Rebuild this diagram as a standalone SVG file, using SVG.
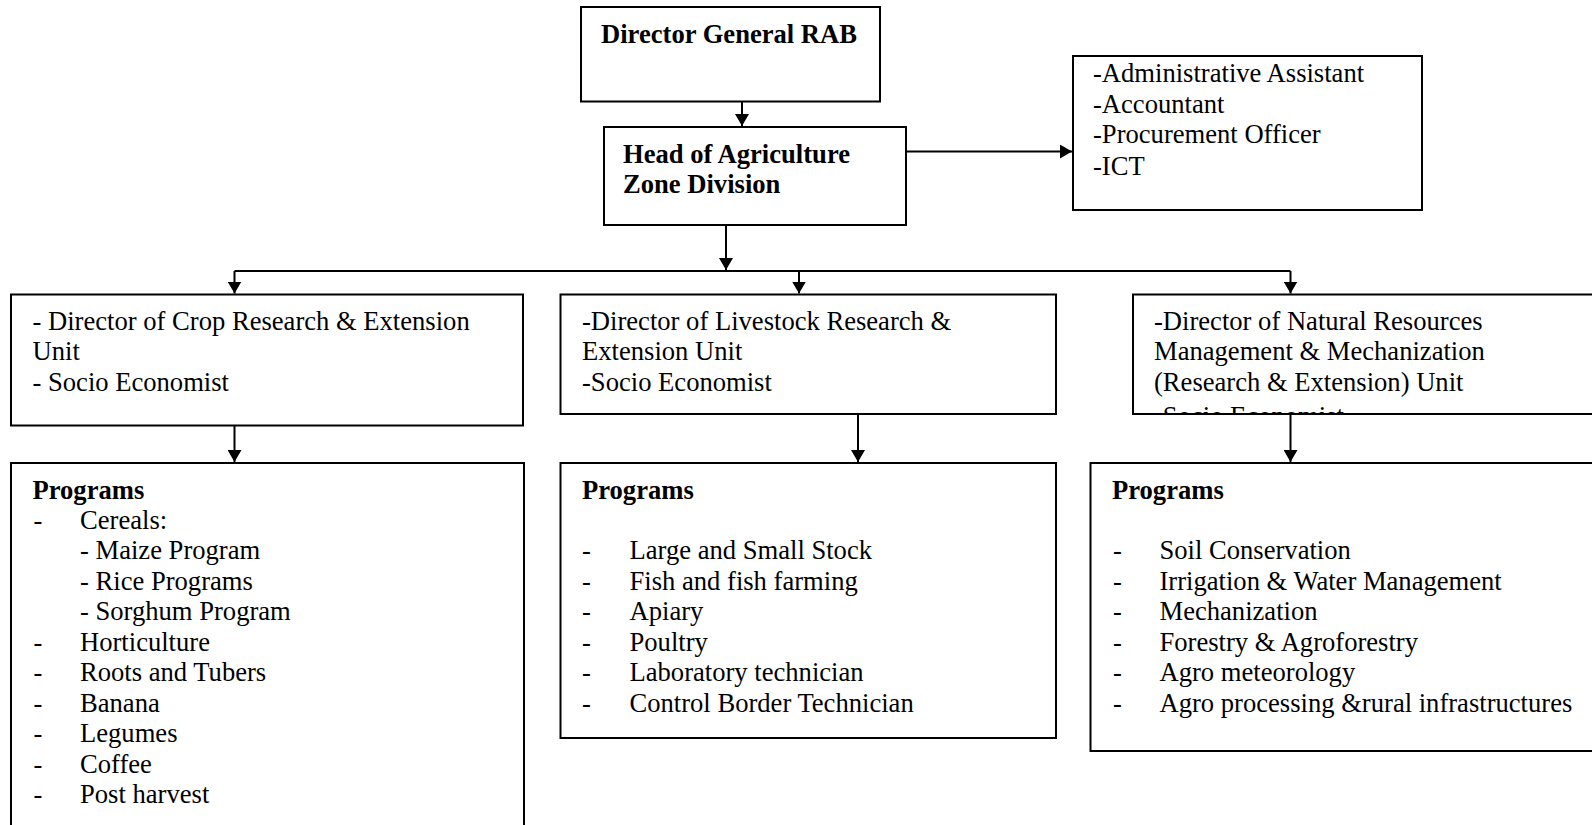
<svg xmlns="http://www.w3.org/2000/svg" width="1592" height="825" viewBox="0 0 1592 825">
<style>
.box{fill:#fff;stroke:#000;stroke-width:2}
.t{font-family:"Liberation Serif","Times New Roman",serif;font-size:26.6px;fill:#000}
.b{font-weight:bold}
.c{fill:none;stroke:#000;stroke-width:2}
</style>
<defs>
<marker id="ah" viewBox="0 0 12 14" refX="12" refY="7" markerWidth="12" markerHeight="14" markerUnits="userSpaceOnUse" orient="auto">
<path d="M0,0 L12,7 L0,14 Z" fill="#000"/>
</marker>
<clipPath id="clipNR"><rect x="1134" y="295.5" width="470" height="117.5"/></clipPath>
</defs>
<rect width="1592" height="825" fill="#fff"/>
<g id="connectors">
<line class="c" x1="742" y1="101.5" x2="742" y2="126" marker-end="url(#ah)"/>
<line class="c" x1="906" y1="151.5" x2="1072" y2="151.5" marker-end="url(#ah)"/>
<line class="c" x1="726" y1="225" x2="726" y2="270" marker-end="url(#ah)"/>
<line class="c" x1="234.5" y1="271" x2="1290.5" y2="271"/>
<line class="c" x1="234.5" y1="271" x2="234.5" y2="293.5" marker-end="url(#ah)"/>
<line class="c" x1="799" y1="271" x2="799" y2="293.5" marker-end="url(#ah)"/>
<line class="c" x1="1290.5" y1="271" x2="1290.5" y2="293.5" marker-end="url(#ah)"/>
<line class="c" x1="234.5" y1="425.5" x2="234.5" y2="462" marker-end="url(#ah)"/>
<line class="c" x1="858" y1="414" x2="858" y2="462" marker-end="url(#ah)"/>
<line class="c" x1="1290.5" y1="414" x2="1290.5" y2="462" marker-end="url(#ah)"/>
</g>
<g id="director-general">
<rect class="box" x="581" y="7" width="299" height="94.5"/>
<text class="t b" x="601" y="42.6">Director General RAB</text>
</g>
<g id="head-agriculture">
<rect class="box" x="604" y="127" width="302" height="98"/>
<text class="t b" x="623" y="162.5">Head of Agriculture</text>
<text class="t b" x="623" y="193">Zone Division</text>
</g>
<g id="support-staff">
<rect class="box" x="1073" y="56" width="349" height="154"/>
<text class="t" x="1093" y="82">-Administrative Assistant</text>
<text class="t" x="1093" y="113">-Accountant</text>
<text class="t" x="1093" y="143">-Procurement Officer</text>
<text class="t" x="1093" y="175">-ICT</text>
</g>
<g id="crop-director">
<rect class="box" x="11" y="294.5" width="512" height="131"/>
<text class="t" x="32.5" y="330">- Director of Crop Research &amp; Extension</text>
<text class="t" x="32.5" y="360.4">Unit</text>
<text class="t" x="32.5" y="391">- Socio Economist</text>
</g>
<g id="livestock-director">
<rect class="box" x="560.5" y="294.5" width="495.5" height="119.5"/>
<text class="t" x="582" y="330">-Director of Livestock Research &amp;</text>
<text class="t" x="582" y="360.4">Extension Unit</text>
<text class="t" x="582" y="391">-Socio Economist</text>
</g>
<g id="nrm-director">
<rect class="box" x="1133" y="294.5" width="480" height="119.5"/>
<text class="t" x="1154" y="330">-Director of Natural Resources</text>
<text class="t" x="1154" y="360.4">Management &amp; Mechanization</text>
<text class="t" x="1154" y="391">(Research &amp; Extension) Unit</text>
<text class="t" x="1154" y="424.5" clip-path="url(#clipNR)">-Socio Economist</text>
</g>
<g id="crop-programs">
<rect class="box" x="11" y="463" width="513" height="380"/>
<text class="t b" x="32.5" y="498.5">Programs</text>
<text class="t" x="33.5" y="529">-</text><text class="t" x="80" y="529">Cereals:</text>
<text class="t" x="80" y="559.4">- Maize Program</text>
<text class="t" x="80" y="590">- Rice Programs</text>
<text class="t" x="80" y="620.4">- Sorghum Program</text>
<text class="t" x="33.5" y="651">-</text><text class="t" x="80" y="651">Horticulture</text>
<text class="t" x="33.5" y="681.3">-</text><text class="t" x="80" y="681.3">Roots and Tubers</text>
<text class="t" x="33.5" y="711.7">-</text><text class="t" x="80" y="711.7">Banana</text>
<text class="t" x="33.5" y="742">-</text><text class="t" x="80" y="742">Legumes</text>
<text class="t" x="33.5" y="772.6">-</text><text class="t" x="80" y="772.6">Coffee</text>
<text class="t" x="33.5" y="803">-</text><text class="t" x="80" y="803">Post harvest</text>
</g>
<g id="livestock-programs">
<rect class="box" x="560.5" y="463" width="495.5" height="275"/>
<text class="t b" x="582" y="498.5">Programs</text>
<text class="t" x="582" y="559.4">-</text><text class="t" x="629.5" y="559.4">Large and Small Stock</text>
<text class="t" x="582" y="590">-</text><text class="t" x="629.5" y="590">Fish and fish farming</text>
<text class="t" x="582" y="620.4">-</text><text class="t" x="629.5" y="620.4">Apiary</text>
<text class="t" x="582" y="651">-</text><text class="t" x="629.5" y="651">Poultry</text>
<text class="t" x="582" y="681.3">-</text><text class="t" x="629.5" y="681.3">Laboratory technician</text>
<text class="t" x="582" y="711.7">-</text><text class="t" x="629.5" y="711.7">Control Border Technician</text>
</g>
<g id="nrm-programs">
<rect class="box" x="1090.5" y="463" width="520" height="288"/>
<text class="t b" x="1112" y="498.5">Programs</text>
<text class="t" x="1113" y="559.4">-</text><text class="t" x="1159.5" y="559.4">Soil Conservation</text>
<text class="t" x="1113" y="590">-</text><text class="t" x="1159.5" y="590">Irrigation &amp; Water Management</text>
<text class="t" x="1113" y="620.4">-</text><text class="t" x="1159.5" y="620.4">Mechanization</text>
<text class="t" x="1113" y="651">-</text><text class="t" x="1159.5" y="651">Forestry &amp; Agroforestry</text>
<text class="t" x="1113" y="681.3">-</text><text class="t" x="1159.5" y="681.3">Agro meteorology</text>
<text class="t" x="1113" y="711.7">-</text><text class="t" x="1159.5" y="711.7">Agro processing &amp;rural infrastructures</text>
</g>
</svg>
